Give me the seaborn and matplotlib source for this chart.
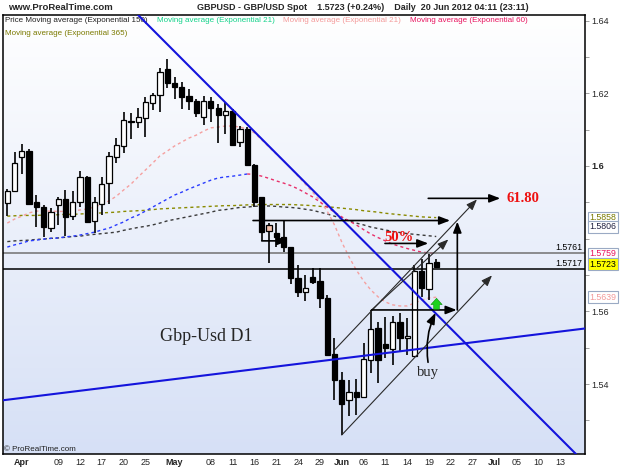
import numpy as np
import pandas as pd
import matplotlib
matplotlib.use("Agg")
import matplotlib.pyplot as plt
from matplotlib.colors import LinearSegmentedColormap
import seaborn as sns

# GBP/USD daily candles, one per business day from 29 Mar 2012 to 20 Jun 2012
opens = [1.5897, 1.5931, 1.6024, 1.6042, 1.5901, 1.5888, 1.5830, 1.5892, 1.5908, 1.5862,
         1.5901, 1.5971, 1.5850, 1.5895, 1.5952, 1.6026, 1.6056, 1.6124, 1.6120, 1.6133,
         1.6174, 1.6195, 1.6266, 1.6229, 1.6217, 1.6193, 1.6178, 1.6134, 1.6179, 1.6159,
         1.6139, 1.6152, 1.6067, 1.6101, 1.6003, 1.5914, 1.5838, 1.5817, 1.5806, 1.5776,
         1.5691, 1.5653, 1.5695, 1.5684, 1.5636, 1.5483, 1.5411, 1.5356, 1.5379, 1.5364,
         1.5466, 1.5553, 1.5510, 1.5496, 1.5570, 1.5527, 1.5477, 1.5711, 1.5661, 1.5736]
highs = [1.5936, 1.6038, 1.6061, 1.6046, 1.5920, 1.5893, 1.5884, 1.5916, 1.5934, 1.5932,
         1.5987, 1.5972, 1.5916, 1.5971, 1.6039, 1.6076, 1.6149, 1.6147, 1.6159, 1.6191,
         1.6202, 1.6270, 1.6294, 1.6246, 1.6232, 1.6211, 1.6184, 1.6193, 1.6191, 1.6171,
         1.6177, 1.6156, 1.6110, 1.6108, 1.6006, 1.5916, 1.5842, 1.5842, 1.5849, 1.5778,
         1.5728, 1.5700, 1.5719, 1.5719, 1.5645, 1.5526, 1.5434, 1.5411, 1.5413, 1.5514,
         1.5604, 1.5572, 1.5584, 1.5587, 1.5596, 1.5581, 1.5728, 1.5743, 1.5759, 1.5745]
lows = [1.5862, 1.5928, 1.5978, 1.5893, 1.5833, 1.5806, 1.5819, 1.5838, 1.5808, 1.5851,
        1.5888, 1.5842, 1.5817, 1.5865, 1.5895, 1.6009, 1.6035, 1.6073, 1.6105, 1.6079,
        1.6154, 1.6148, 1.6214, 1.6183, 1.6156, 1.6154, 1.6136, 1.6112, 1.6120, 1.6064,
        1.6088, 1.6056, 1.6051, 1.6000, 1.5888, 1.5794, 1.5733, 1.5778, 1.5763, 1.5675,
        1.5639, 1.5629, 1.5675, 1.5609, 1.5477, 1.5356, 1.5260, 1.5312, 1.5315, 1.5361,
        1.5430, 1.5402, 1.5471, 1.5453, 1.5489, 1.5480, 1.5475, 1.5639, 1.5631, 1.5720]
closes = [1.5932, 1.6007, 1.6040, 1.5895, 1.5888, 1.5833, 1.5873, 1.5908, 1.5861, 1.5902,
          1.5971, 1.5847, 1.5902, 1.5950, 1.6028, 1.6057, 1.6127, 1.6120, 1.6134, 1.6176,
          1.6194, 1.6258, 1.6229, 1.6217, 1.6191, 1.6180, 1.6146, 1.6179, 1.6159, 1.6140,
          1.6151, 1.6058, 1.6101, 1.6002, 1.5900, 1.5819, 1.5822, 1.5806, 1.5777, 1.5691,
          1.5654, 1.5664, 1.5682, 1.5638, 1.5480, 1.5411, 1.5345, 1.5379, 1.5365, 1.5468,
          1.5551, 1.5466, 1.5498, 1.5570, 1.5526, 1.5532, 1.5712, 1.5664, 1.5734, 1.5723]

# moving averages as drawn on the chart
ema150 = [1.5792, 1.5794, 1.5795, 1.5796, 1.5798, 1.5799, 1.5801, 1.5802, 1.5804, 1.5806,
          1.5807, 1.5810, 1.5812, 1.5814, 1.5816, 1.5818, 1.5823, 1.5827, 1.5831, 1.5834,
          1.5838, 1.5843, 1.5849, 1.5853, 1.5857, 1.5861, 1.5865, 1.5869, 1.5873, 1.5878,
          1.5880, 1.5883, 1.5886, 1.5887, 1.5889, 1.5890, 1.5890, 1.5889, 1.5887, 1.5886,
          1.5884, 1.5881, 1.5878, 1.5873, 1.5868, 1.5862, 1.5856, 1.5849, 1.5843, 1.5838,
          1.5832, 1.5828, 1.5824, 1.5820, 1.5817, 1.5814, 1.5812, 1.5810, 1.5808, 1.5806]
ema21 = [1.5843, 1.5854, 1.5862, 1.5871, 1.5876, 1.5876, 1.5876, 1.5875, 1.5875, 1.5876,
         1.5879, 1.5882, 1.5887, 1.5895, 1.5904, 1.5917, 1.5934, 1.5950, 1.5970, 1.5989,
         1.6008, 1.6028, 1.6041, 1.6055, 1.6066, 1.6077, 1.6085, 1.6096, 1.6105, 1.6107,
         1.6110, 1.6110, 1.6107, 1.6102, 1.6091, 1.6072, 1.6052, 1.6033, 1.6014, 1.5994,
         1.5972, 1.5950, 1.5928, 1.5904, 1.5876, 1.5838, 1.5791, 1.5750, 1.5714, 1.5684,
         1.5659, 1.5640, 1.5626, 1.5618, 1.5615, 1.5615, 1.5623, 1.5631, 1.5637, 1.5639]
ema60 = [1.5777, 1.5783, 1.5788, 1.5794, 1.5796, 1.5799, 1.5801, 1.5802, 1.5805, 1.5807,
         1.5810, 1.5814, 1.5818, 1.5824, 1.5829, 1.5838, 1.5846, 1.5857, 1.5865, 1.5876,
         1.5887, 1.5898, 1.5909, 1.5920, 1.5928, 1.5937, 1.5945, 1.5953, 1.5961, 1.5967,
         1.5970, 1.5972, 1.5975, 1.5978, 1.5977, 1.5972, 1.5966, 1.5959, 1.5953, 1.5946,
         1.5937, 1.5926, 1.5915, 1.5901, 1.5887, 1.5873, 1.5860, 1.5849, 1.5838, 1.5825,
         1.5813, 1.5803, 1.5794, 1.5785, 1.5779, 1.5773, 1.5768, 1.5763, 1.5761, 1.5759]
ema365 = [1.5862, 1.5863, 1.5864, 1.5864, 1.5864, 1.5865, 1.5865, 1.5866, 1.5867, 1.5867,
          1.5868, 1.5869, 1.5870, 1.5871, 1.5872, 1.5873, 1.5875, 1.5876, 1.5877, 1.5878,
          1.5880, 1.5882, 1.5883, 1.5884, 1.5885, 1.5886, 1.5887, 1.5888, 1.5889, 1.5890,
          1.5891, 1.5891, 1.5892, 1.5893, 1.5893, 1.5894, 1.5894, 1.5894, 1.5894, 1.5894,
          1.5893, 1.5892, 1.5891, 1.5889, 1.5888, 1.5886, 1.5884, 1.5882, 1.5880, 1.5877,
          1.5875, 1.5873, 1.5870, 1.5868, 1.5866, 1.5864, 1.5862, 1.5860, 1.5859, 1.5858]

tick_dates = ["2012-04-02", "2012-04-09", "2012-04-12", "2012-04-17", "2012-04-20", "2012-04-25",
              "2012-05-01", "2012-05-08", "2012-05-11", "2012-05-16", "2012-05-21", "2012-05-24",
              "2012-05-29", "2012-06-01", "2012-06-06", "2012-06-11", "2012-06-14", "2012-06-19",
              "2012-06-22", "2012-06-27", "2012-07-02", "2012-07-05", "2012-07-10", "2012-07-13"]
tick_labels = ["Apr", "09", "12", "17", "20", "25", "May", "08", "11", "16", "21", "24", "29",
               "Jun", "06", "11", "14", "19", "22", "27", "Jul", "05", "10", "13"]

# hand drawn lines: (candle index, price) anchors
down_trend = [(22.8, 1.6319), (78.2, 1.5208)]
up_trend = [(0.0, 1.5357), (60.0, 1.5505)]
channel_lines = [((44.87, 1.5491), (64.6, 1.5908)),
                 ((50.1, 1.5604), (60.66, 1.5798)),
                 ((46.0, 1.5260), (66.67, 1.5699))]
level_arrows = [((33.8, 1.5850), (60.9, 1.5850)),
                ((35.0, 1.5794), (38.6, 1.5794)),
                ((51.95, 1.5787), (57.9, 1.5787)),
                ((57.9, 1.5911), (67.8, 1.5911)),
                ((50.1, 1.5604), (61.8, 1.5604)),
                ((61.9, 1.5604), (61.9, 1.5847))]
h_levels = [1.5761, 1.5717]
last_values = [1.5858, 1.5806, 1.5759, 1.5723, 1.5639]

sns.set_style("white")
plt.rcParams["font.family"] = ["Liberation Sans", "DejaVu Sans"]

all_days = pd.bdate_range("2012-03-29", "2012-08-31")
tick_pos = all_days.get_indexer(pd.to_datetime(tick_dates))
x = np.arange(len(closes))

fig = plt.figure(figsize=(6.25, 4.69), dpi=100)
ax = fig.add_axes([3 / 625, 15 / 469, 582 / 625, 439 / 469])
xlim = (-0.59, 79.46)
ylim = (1.52077, 1.64154)

# background gradient
bg = LinearSegmentedColormap.from_list("bg", ["#d6e0f6", "#ffffff"])
ax.imshow(np.linspace(0, 1, 256)[:, None], extent=[xlim[0], xlim[1], ylim[0], ylim[1]],
          origin="lower", cmap=bg, aspect="auto", zorder=0)

# moving averages
dash = (0, (2.2, 2.2))
sns.lineplot(x=x, y=ema365, ax=ax, color="#8a8a00", lw=1, linestyle=dash, zorder=2)
sns.lineplot(x=x, y=ema150, ax=ax, color="#3a3a3a", lw=1, linestyle=dash, zorder=2)
sns.lineplot(x=x, y=ema21, ax=ax, color="#f5a0a0", lw=1, linestyle=dash, zorder=2)
peak = int(np.argmax(ema60))
sns.lineplot(x=x[:peak + 1], y=ema60[:peak + 1], ax=ax, color="#2a3cff", lw=1, linestyle=dash, zorder=2)
sns.lineplot(x=x[peak:], y=ema60[peak:], ax=ax, color="#e8306a", lw=1, linestyle=dash, zorder=2)

# horizontal price levels
ax.axhline(h_levels[0], color="#707070", lw=1.1, zorder=2.5)
ax.axhline(h_levels[1], color="black", lw=1.1, zorder=2.5)
for lv in h_levels:
    ax.text(0.996, lv + 0.0002, f"{lv:.4f}", transform=ax.get_yaxis_transform(),
            ha="right", va="bottom", fontsize=6.3, color="black")

# candles
o, h, l, c = map(np.array, (opens, highs, lows, closes))
ax.vlines(x, l, h, color="black", lw=1.2, zorder=3)
face = np.where(c >= o, "white", "black").astype(object)
face[36] = "#f6c3ad"
bottoms = np.minimum(o, c)
heights = np.maximum(np.abs(c - o), 0.00018)
ax.bar(x, heights, bottom=bottoms, width=0.72, color=list(face), edgecolor="black", lw=0.9, zorder=4)

# trend lines
ax.axline(*down_trend, color="#1414dc", lw=1.5, zorder=5)
ax.axline(*up_trend, color="#1414dc", lw=1.5, zorder=5)

head = "-|>,head_length=0.65,head_width=0.25"
for start, end in channel_lines:
    ax.annotate("", xy=end, xytext=start, zorder=6,
                arrowprops=dict(arrowstyle=head, color="#2a2a2a", lw=0.8, shrinkA=0, shrinkB=0))
for start, end in level_arrows:
    ax.annotate("", xy=end, xytext=start, zorder=6,
                arrowprops=dict(arrowstyle=head, color="black", lw=1.2, shrinkA=0, shrinkB=0))

# buy arrow and signal
ax.annotate("", xy=(58.9, 1.5596), xytext=(57.87, 1.5460), zorder=6,
            arrowprops=dict(arrowstyle=head, color="black", lw=1.2, shrinkA=0, shrinkB=0,
                            connectionstyle="arc3,rad=-0.15"))
ax.annotate("", xy=(59.04, 1.5636), xytext=(59.04, 1.5606), zorder=6,
            arrowprops=dict(arrowstyle="simple,head_length=0.5,head_width=0.9,tail_width=0.45",
                            fc="#1ed21e", ec="#0b8f0b", lw=0.4, mutation_scale=9, shrinkA=0, shrinkB=0))

serif = ["Liberation Serif", "DejaVu Serif"]
ax.text(57.87, 1.5433, "buy", family=serif, fontsize=10.5, ha="center", va="center", zorder=7)
ax.text(53.9, 1.5803, "50%", family=serif, fontsize=10.5, fontweight="bold", color="#ee1111",
        ha="center", va="center", zorder=7)
ax.text(68.7, 1.5911, "61.80", family=serif, fontsize=10.5, fontweight="bold", color="#ee1111",
        ha="left", va="center", zorder=7)
ax.text(21.0, 1.5530, "Gbp-Usd D1", family=serif, fontsize=13, ha="left", va="center", zorder=7)

# indicator legend inside the plot
legend_parts = [(0.0034, "Price Moving average (Exponential 150)", "#202020"),
                (0.2646, "Moving average (Exponential 21)", "#12d28a"),
                (0.4811, "Moving average (Exponential 21)", "#f49a9a"),
                (0.6993, "Moving average (Exponential 60)", "#e8125e")]
for xp, txt, col in legend_parts:
    ax.text(xp, 0.987, txt, transform=ax.transAxes, fontsize=5.8, color=col, va="center", ha="left")
ax.text(0.0034, 0.957, "Moving average (Exponential 365)", transform=ax.transAxes,
        fontsize=5.8, color="#7a7a00", va="center", ha="left")
ax.text(0.002, 0.0105, "\u00a9 ProRealTime.com", transform=ax.transAxes, fontsize=5.8,
        color="#202020", va="center", ha="left")

# last value boxes on the right
box_colors = [("#7a7a00", "white"), ("#202040", "white"), ("#e8125e", "white"),
              ("black", "#ffff00"), ("#f29a9a", "white")]
nudge = [0, 0.0027, 0, 0.0007, 0]
for val, (tc, fc), dy in zip(last_values, box_colors, nudge):
    ax.text(1.0075, val + dy, f"{val:.4f}", transform=ax.get_yaxis_transform(), fontsize=6.3,
            color=tc, ha="left", va="center", clip_on=False,
            bbox=dict(boxstyle="square,pad=0.18", fc=fc, ec="#9aaac4", lw=0.8))

# axes
ax.set_xlim(*xlim)
ax.set_ylim(*ylim)
ax.set_xlabel("")
ax.set_ylabel("")
ax.set_xticks(tick_pos)
ax.set_xticklabels(tick_labels)
for lab in ax.get_xticklabels():
    lab.set_fontsize(6.5)
    if lab.get_text() in ("Apr", "May", "Jun", "Jul"):
        lab.set_fontweight("bold")
ax.tick_params(axis="x", length=0, pad=3)
ax.yaxis.tick_right()
ax.set_yticks([1.54, 1.56, 1.58, 1.60, 1.62, 1.64])
ax.set_yticklabels(["1.54", "1.56", "", "1.6", "1.62", "1.64"])
ax.set_yticks(np.arange(1.53, 1.64, 0.02), minor=True)
ax.tick_params(axis="y", which="both", right=True, length=3, width=0.6, color="#909090",
               labelsize=6.5, pad=1.5)
for lab in ax.get_yticklabels():
    if lab.get_text() == "1.6":
        lab.set_fontweight("bold")
for sp in ax.spines.values():
    sp.set_visible(True)
    sp.set_color("black")
    sp.set_linewidth(1.1)

# header
fig.text(8 / 625, 1 - 7 / 469, "www.ProRealTime.com", fontsize=6.8, fontweight="bold", va="center")
fig.text(197 / 625, 1 - 7 / 469,
         "GBPUSD - GBP/USD Spot    1.5723 (+0.24%)    Daily  20 Jun 2012 04:11 (23:11)",
         fontsize=6.5, fontweight="bold", va="center")

fig.savefig("out.png", dpi=100)
